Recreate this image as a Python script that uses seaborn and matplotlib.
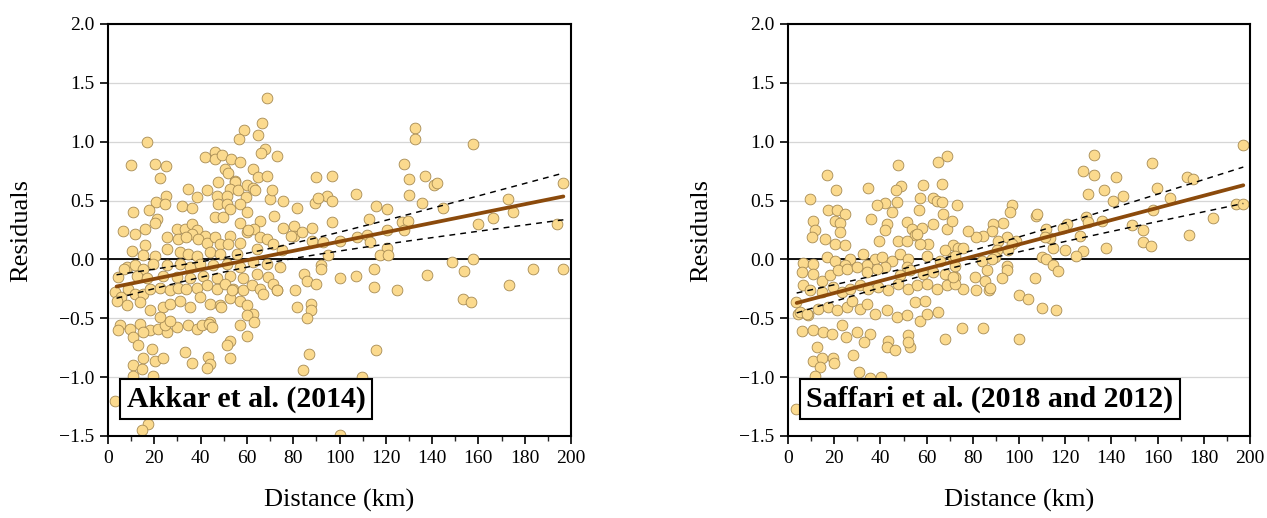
import numpy as np
import pandas as pd
import seaborn as sns
import matplotlib
matplotlib.use("Agg")
import matplotlib.pyplot as plt
from matplotlib.ticker import MultipleLocator

sns.set_style("ticks")
plt.rcParams["font.family"] = ["Liberation Serif", "DejaVu Serif"]
plt.rcParams["axes.unicode_minus"] = True
plt.rcParams["text.color"] = "black"
plt.rcParams["axes.labelcolor"] = "black"

# ---- data (distance km, residual)

akkar_pts = [
    # 80 - 200 km
    (132.6, 1.12), (132.6, 1.02), (157.8, 0.98), (127.9, 0.81), (89.8, 0.70), (96.8, 0.71),
    (130, 0.68), (136.8, 0.71), (140.9, 0.63), (142, 0.65), (107, 0.56), (196.7, 0.65),
    (130, 0.55), (94.6, 0.54), (96.6, 0.50), (89.3, 0.48), (90.5, 0.52), (81.8, 0.44),
    (115.8, 0.45), (120.7, 0.43), (135.7, 0.48), (144.8, 0.44), (172.9, 0.51), (174.8, 0.40),
    (166.2, 0.35), (160, 0.30), (193.8, 0.30), (96.6, 0.32), (112.9, 0.34), (80.2, 0.28),
    (80.2, 0.20), (88, 0.27), (84, 0.23), (88, 0.16), (93, 0.15), (100, 0.16), (107.6, 0.19),
    (112, 0.21), (113, 0.15), (120.5, 0.25), (127, 0.32), (129.8, 0.33), (128, 0.25),
    (120.5, 0.10), (117.6, 0.04), (120.8, 0.04), (94.9, 0.04), (92, -0.05), (92, -0.08),
    (84.6, -0.12), (85.8, -0.18), (89.8, -0.21), (80.8, -0.26), (100, -0.16), (107, -0.14),
    (114.9, -0.08), (114.9, -0.23), (124.7, -0.26), (137.6, -0.13), (148.8, -0.02),
    (153.7, -0.10), (157.8, 0.0), (153.4, -0.34), (156.7, -0.36), (173.4, -0.22),
    (183.7, -0.08), (196.7, -0.08), (81.8, -0.40), (87.8, -0.38), (87.8, -0.43), (85.8, -0.50),
    (86.7, -0.80), (84.4, -0.94), (115.8, -0.77), (109.7, -1.00), (100, -1.49),
    # 0 - 80 km, upper
    (68.8, 1.37), (66.7, 1.16), (58.7, 1.10), (64.9, 1.06), (56.7, 1.02), (16.7, 1.00),
    (9.8, 0.80), (20.4, 0.81), (25, 0.79), (22.5, 0.69), (41.9, 0.87), (46.2, 0.91),
    (46.2, 0.855), (49.1, 0.89), (53, 0.85), (57, 0.83), (67.8, 0.94), (66, 0.90), (72.9, 0.88),
    (50.5, 0.77), (52, 0.73), (54.9, 0.67), (62.8, 0.77), (64.9, 0.70), (68.8, 0.71),
    (34.7, 0.60), (42.6, 0.59), (46.9, 0.54), (38.6, 0.53), (47.6, 0.66), (25, 0.54),
    (20.7, 0.49), (17.8, 0.42), (10.6, 0.40), (31.8, 0.45), (36.1, 0.44), (54.9, 0.66),
    (52.7, 0.60), (56.3, 0.59), (59.9, 0.63), (62.8, 0.61), (59.6, 0.53), (63.5, 0.59),
    (69.9, 0.51), (70.7, 0.59), (75.7, 0.50), (51.3, 0.54), (47.6, 0.47), (51.3, 0.47),
    (57, 0.47), (52.7, 0.43), (59.9, 0.40), (57, 0.31), (65.7, 0.33), (59.9, 0.23), (63, 0.26),
    (71.8, 0.37), (46.2, 0.36), (49.8, 0.36), (21, 0.34), (24.6, 0.47),
    (6.6, 0.24), (11.7, 0.22), (16, 0.26), (20.3, 0.31), (29.7, 0.26), (33.3, 0.26),
    (36.1, 0.30), (38.3, 0.25), (41.9, 0.20), (36.1, 0.22), (25.3, 0.19), (30.4, 0.17),
    (33.9, 0.19), (39, 0.17), (42.6, 0.14), (46.2, 0.19), (48.4, 0.13), (52.7, 0.20),
    (52, 0.13), (57, 0.14), (60.6, 0.25), (65.7, 0.19), (68.5, 0.17), (75.7, 0.27), (78.9, 0.20),
    (10.2, 0.07), (15.9, 0.12), (15.3, 0.04), (20.3, 0.03), (25.3, 0.09), (31.1, 0.06),
    (34.7, 0.05), (38.3, 0.03), (44, 0.06), (48.4, 0.05), (55.6, 0.05), (64.2, 0.09),
    (71.4, 0.13), (75, 0.08),
    # 0 - 80 km, lower
    (8, -0.065), (11.7, -0.05), (15.3, -0.08), (19.6, -0.04), (25.3, -0.05), (31.1, -0.04),
    (35.4, -0.065), (39.7, -0.04), (45.5, -0.05), (51.3, -0.04), (57, -0.065), (62.8, -0.02),
    (68.5, -0.04), (74.3, -0.065), (4.5, -0.15), (7, -0.08),
    (12.4, -0.14), (16.7, -0.16), (23.9, -0.14), (29.7, -0.15), (35.4, -0.16), (41.2, -0.14),
    (46.9, -0.16), (52.7, -0.14), (58.5, -0.16), (64.2, -0.12), (69.2, -0.15),
    (3, -0.28), (5.5, -0.32), (8.8, -0.25), (11.7, -0.29), (15.3, -0.29), (18.1, -0.25),
    (22.5, -0.24), (26.8, -0.26), (30.4, -0.24), (33.9, -0.25), (38.3, -0.24), (42.6, -0.22),
    (46.9, -0.25), (50.5, -0.21), (54.1, -0.25), (58.5, -0.26), (62.1, -0.22), (65.7, -0.25),
    (71.4, -0.21), (72.8, -0.26),
    (3.7, -0.35), (8, -0.39), (13.8, -0.36), (18.1, -0.43), (23.9, -0.405), (26.8, -0.38),
    (31.1, -0.35), (35.4, -0.405), (39.7, -0.32), (44, -0.38), (48.4, -0.39), (52.7, -0.33),
    (57, -0.35), (59.9, -0.39), (62.8, -0.46), (59.9, -0.475), (63, -0.53), (57, -0.56),
    (49, -0.405), (53.4, -0.26), (67.1, -0.29), (72.8, -0.26),
    (5.2, -0.56), (9.5, -0.59), (13.8, -0.55), (18.1, -0.60), (21.7, -0.59), (25.3, -0.62),
    (29.7, -0.575), (34.7, -0.56), (38.3, -0.59), (44, -0.53), (40.6, -0.56), (10.9, -0.66),
    (13.1, -0.73), (15.3, -0.62), (24.6, -0.56), (22.5, -0.49), (26.8, -0.52), (52.7, -0.69),
    (51.3, -0.73), (59.9, -0.65), (4.5, -0.60), (43.5, -0.55), (45, -0.57),
    (18.9, -0.76), (20.3, -0.86), (23.9, -0.84), (15.3, -0.84), (33.3, -0.79), (36.1, -0.88),
    (43.3, -0.83), (44, -0.89), (42.6, -0.92), (52.7, -0.84), (10.9, -0.90), (14.5, -0.93),
    (10.9, -0.99), (19.6, -0.99), (3, -1.20), (17.4, -1.40), (14.5, -1.45),
]

saffari_pts = [
    # 0 - 75 km, upper
    (68.7, 0.88), (64.8, 0.83), (47.8, 0.80), (16.7, 0.72), (66.5, 0.64), (58.6, 0.63),
    (48.8, 0.62), (46.8, 0.59), (34.5, 0.61), (20.8, 0.59), (9.5, 0.51), (42, 0.48),
    (38.4, 0.46), (47, 0.49), (57.1, 0.52), (62.9, 0.52), (64.4, 0.50), (66.5, 0.49), (73, 0.46),
    (17.5, 0.42), (21.1, 0.42), (24.7, 0.39), (10.7, 0.33), (11.7, 0.25), (20.3, 0.33),
    (22.5, 0.31), (22.5, 0.23), (16, 0.17), (10.5, 0.19), (20.3, 0.13), (24.7, 0.12),
    (35.9, 0.34), (44.9, 0.40), (42.7, 0.30), (42, 0.25), (39.5, 0.16), (47.8, 0.16),
    (51.4, 0.32), (53.5, 0.26), (55, 0.21), (57.9, 0.27), (60.7, 0.13), (56.8, 0.42),
    (62.9, 0.30), (68.7, 0.26), (70.8, 0.33), (66.9, 0.39), (71.6, 0.12), (73.7, 0.10),
    (67.8, 0.08), (51.4, 0.16), (57.1, 0.13), (55.7, 0.22),
    (6.6, -0.03), (10.9, -0.04), (16.7, 0.02), (20.3, -0.01), (26.8, 0.005), (32.6, 0.047),
    (37.6, 0.005), (40.5, 0.02), (44.9, -0.01), (48.5, 0.047), (52.1, 0.005), (60, 0.033),
    (65.8, -0.01), (71.6, 0.02), (24.7, -0.05), (34, -0.05), (42, -0.065), (51.4, -0.065),
    # 0 - 75 km, lower
    (3.5, -0.36), (4.2, -0.46), (8.5, -0.47),
    (5.9, -0.107), (11, -0.12), (14.6, -0.18), (18.2, -0.136), (21.8, -0.093), (34, -0.107),
    (38.4, -0.079), (48.5, -0.136), (52.8, -0.093), (58.6, -0.12), (62.9, -0.107),
    (67.9, -0.12), (72.3, -0.15), (25.4, -0.079), (29.7, -0.065),
    (6.6, -0.22), (9.5, -0.26), (14.6, -0.28), (19.6, -0.235), (23.2, -0.28), (26.8, -0.25),
    (31.2, -0.22), (34.8, -0.25), (39.1, -0.235), (43.4, -0.26), (47.8, -0.21), (52.1, -0.25),
    (55.7, -0.22), (60, -0.21), (64.4, -0.25), (68.7, -0.22),
    (5.2, -0.45), (8.1, -0.46), (13.1, -0.42), (17.5, -0.405), (21.1, -0.43), (25.4, -0.405),
    (27.6, -0.35), (31.2, -0.42), (34, -0.38), (37.6, -0.46), (42.7, -0.43), (47, -0.49),
    (51.4, -0.475), (57.1, -0.52), (60, -0.46), (65.1, -0.45), (55, -0.36), (59.3, -0.35),
    (5.9, -0.61), (10.7, -0.60), (15.3, -0.62), (18.9, -0.63), (23.2, -0.56), (25.1, -0.66),
    (29.7, -0.62), (35.5, -0.63), (32.9, -0.70), (43.4, -0.69), (42.7, -0.745), (46.3, -0.77),
    (52.1, -0.645), (52.8, -0.745), (51.9, -0.70), (67.9, -0.68),
    (12.7, -0.74), (10.7, -0.86), (14.6, -0.84), (13.9, -0.915), (19.6, -0.84), (20, -0.88),
    (28, -0.81), (11.7, -0.99), (30.9, -0.96), (35.5, -1.01), (40.1, -0.995), (3.5, -1.27),
    # 75 - 200 km
    (197.1, 0.97), (132.6, 0.89), (127.9, 0.75), (132.6, 0.72), (141.8, 0.70), (157.7, 0.82),
    (172.9, 0.70), (175.5, 0.68), (159.9, 0.61), (130, 0.56), (136.8, 0.59), (140.8, 0.50),
    (144.9, 0.54), (165.4, 0.52), (157.9, 0.42), (193.8, 0.47), (197.1, 0.47), (183.8, 0.35),
    (148.8, 0.29), (153.8, 0.25), (153.8, 0.15), (157.2, 0.11), (173.7, 0.21), (137.7, 0.10),
    (128.9, 0.36), (130, 0.32), (135.8, 0.33), (126.4, 0.20), (127.6, 0.07), (124.7, 0.03),
    (119.9, 0.08), (120.6, 0.30), (119.2, 0.27), (107.4, 0.37), (108, 0.39), (111.9, 0.26),
    (113.4, 0.18), (111.2, 0.19), (114.9, 0.10), (109.8, 0.02), (111.9, 0.0), (114.9, -0.05),
    (117, -0.10), (106.9, -0.155), (109.8, -0.41), (116, -0.43), (99.9, -0.30), (103.9, -0.34),
    (99.9, -0.68), (84.5, -0.58), (75.2, -0.58), (96.8, 0.46), (96.1, 0.40), (93.2, 0.31),
    (88.9, 0.30), (88.2, 0.24), (94.6, 0.19), (98.9, 0.16), (96.8, 0.13), (95.3, 0.08),
    (84.5, 0.20), (81.6, 0.19), (78, 0.24), (75.9, 0.10), (72.3, 0.03), (91.1, 0.16),
    (90.4, 0.08), (89.7, 0.02), (83.8, -0.01), (88.2, 0.005), (94.6, -0.06), (94.9, -0.09),
    (92.5, -0.16), (86, -0.09), (81, -0.15), (85.3, -0.18), (87.2, -0.26), (87.4, -0.24),
    (81.6, -0.26), (75.9, -0.25), (72.3, -0.21), (72.3, -0.06), (71.6, -0.15),
]

akkar_dist = [p[0] for p in akkar_pts]
akkar_res = [p[1] for p in akkar_pts]
saffari_dist = [p[0] for p in saffari_pts]
saffari_res = [p[1] for p in saffari_pts]

# fitted trend lines as drawn in the figure (end points)
akkar_fit_dist = [3.7, 196.7]
akkar_fit_res = [-0.23, 0.535]
saffari_fit_dist = [3.75, 197.1]
saffari_fit_res = [-0.37, 0.63]

panels = [
    ("Akkar et al. (2014)", akkar_dist, akkar_res, akkar_fit_dist, akkar_fit_res),
    ("Saffari et al. (2018 and 2012)", saffari_dist, saffari_res, saffari_fit_dist, saffari_fit_res),
]

POINT_FACE = "#FBDA8E"
POINT_EDGE = "#A68A52"
FIT_COLOR = "#8B4A0C"


def conf_band(x, y, fit_x, fit_y, grid):
    """95% band of the trend line, spread taken from the scatter."""
    x = np.asarray(x)
    y = np.asarray(y)
    n = len(x)
    slope = (fit_y[1] - fit_y[0]) / (fit_x[1] - fit_x[0])
    icpt = fit_y[0] - slope * fit_x[0]
    resid = y - (slope * x + icpt)
    s = np.sqrt(np.sum(resid ** 2) / (n - 2))
    sxx = np.sum((x - x.mean()) ** 2)
    half = 1.97 * s * np.sqrt(1.0 / n + (grid - x.mean()) ** 2 / sxx)
    centre = slope * grid + icpt
    return centre - half, centre + half


fig = plt.figure(figsize=(12.67, 5.18), dpi=100)
axes = [
    fig.add_axes([108 / 1267, 82 / 518, 463 / 1267, 412 / 518]),
    fig.add_axes([788 / 1267, 82 / 518, 462 / 1267, 412 / 518]),
]

for ax, (title, dist, res, fit_x, fit_y) in zip(axes, panels):
    df = pd.DataFrame({"Distance (km)": dist, "Residuals": res})

    for yv in np.arange(-1.0, 2.01, 0.5):
        ax.axhline(yv, color="#d6d6d6", lw=0.9, zorder=0)
    ax.axhline(0, color="black", lw=1.3, zorder=1)

    sns.scatterplot(data=df, x="Distance (km)", y="Residuals", ax=ax,
                    s=60, color=POINT_FACE, edgecolor=POINT_EDGE, linewidth=0.6,
                    zorder=2, legend=False)

    grid = np.linspace(fit_x[0], fit_x[1], 200)
    lo, hi = conf_band(dist, res, fit_x, fit_y, grid)
    ax.plot(grid, lo, color="black", ls=(0, (4, 3.5)), lw=1.05, zorder=3)
    ax.plot(grid, hi, color="black", ls=(0, (4, 3.5)), lw=1.05, zorder=3)

    sns.lineplot(x=fit_x, y=fit_y, ax=ax, color=FIT_COLOR, lw=2.7, zorder=4)

    ax.set_xlim(0, 200)
    ax.set_ylim(-1.5, 2.0)
    ax.xaxis.set_major_locator(MultipleLocator(20))
    ax.xaxis.set_minor_locator(MultipleLocator(10))
    ax.yaxis.set_major_locator(MultipleLocator(0.5))
    ax.yaxis.set_major_formatter(plt.FuncFormatter(lambda v, p: f"{v:.1f}".replace("-", "\u2212")))

    ax.tick_params(axis="both", which="major", direction="out", length=6, width=1.2,
                   labelsize=14, colors="black", pad=4)
    ax.tick_params(axis="x", which="minor", direction="out", length=3.5, width=1.0)
    for sp in ax.spines.values():
        sp.set_visible(True)
        sp.set_color("black")
        sp.set_linewidth(1.5)

    ax.set_xlabel("Distance (km)", fontsize=19, labelpad=16)
    ax.set_ylabel("Residuals", fontsize=19, labelpad=19)

    ax.text(0.04, 0.09, title, transform=ax.transAxes, fontsize=21.5,
            fontweight="bold", va="center", ha="left", color="black", zorder=6,
            bbox=dict(facecolor="white", edgecolor="black", lw=1.5,
                      boxstyle="square,pad=0.22"))

fig.savefig("out.png", dpi=100)
